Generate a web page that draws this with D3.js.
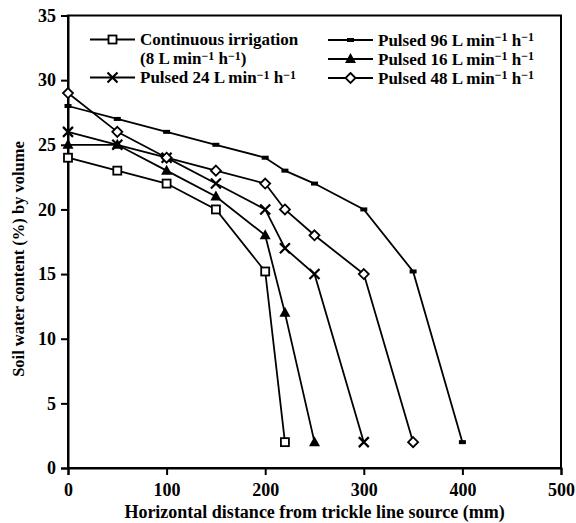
<!DOCTYPE html>
<html>
<head>
<meta charset="utf-8">
<script src="https://cdn.jsdelivr.net/npm/d3@7"></script>
<style>
  body { margin: 0; background: #fff; }
  svg { display: block; }
  text { font-family: "Liberation Serif", "Times New Roman", serif; fill: #000; }
</style>
</head>
<body>
<svg id="chart" width="576" height="523"></svg>
<script>
// data
const xTicks = [0, 100, 200, 300, 400, 500];
const yTicks = [0, 5, 10, 15, 20, 25, 30, 35];

const contX = [0, 50, 100, 150, 200, 220];
const contY = [24, 23, 22, 20, 15.2, 2];
const p16X = [0, 50, 100, 150, 200, 220, 250];
const p16Y = [25, 25, 23, 21, 18, 12, 2];
const p24X = [0, 50, 100, 150, 200, 220, 250, 300];
const p24Y = [26, 25, 24, 22, 20, 17, 15, 2];
const p48X = [0, 50, 100, 150, 200, 220, 250, 300, 350];
const p48Y = [29, 26, 24, 23, 22, 20, 18, 15, 2];
const p96X = [0, 50, 100, 150, 200, 220, 250, 300, 350, 400];
const p96Y = [28, 27, 26, 25, 24, 23, 22, 20, 15.2, 2];

const series = [
    {name: "cont", xs: contX, ys: contY, marker: "square"},
    {name: "p16", xs: p16X, ys: p16Y, marker: "triangle"},
    {name: "p24", xs: p24X, ys: p24Y, marker: "cross"},
    {name: "p48", xs: p48X, ys: p48Y, marker: "diamond"},
    {name: "p96", xs: p96X, ys: p96Y, marker: "dash"}
];

const width = 576, height = 523;
const margin = {top: 15.5, right: 15, bottom: 55, left: 68};

const svg = d3.select("#chart");

const xScale = d3.scaleLinear().domain([0, 500]).range([margin.left, width - margin.right]);
const yScale = d3.scaleLinear().domain([0, 35]).range([height - margin.bottom, margin.top]);

// frame
svg.append("rect")
    .attr("x", margin.left).attr("y", margin.top)
    .attr("width", xScale(500) - margin.left)
    .attr("height", yScale(0) - margin.top)
    .attr("fill", "none").attr("stroke", "#000").attr("stroke-width", 2);

// axes
const xAxis = svg.append("g")
    .attr("transform", `translate(0,${yScale(0)})`)
    .call(d3.axisBottom(xScale).tickValues(xTicks).tickSize(7).tickPadding(8));
const yAxis = svg.append("g")
    .attr("transform", `translate(${margin.left},0)`)
    .call(d3.axisLeft(yScale).tickValues(yTicks).tickSize(7).tickPadding(5));

[xAxis, yAxis].forEach(ax => {
    ax.select(".domain").attr("stroke-width", 2);
    ax.selectAll(".tick line").attr("stroke-width", 2);
    ax.selectAll(".tick text")
        .attr("font-family", "Liberation Serif")
        .attr("font-size", 18)
        .attr("font-weight", "bold");
});

// axis titles
svg.append("text")
    .attr("x", (xScale(0) + xScale(500)) / 2)
    .attr("y", 518)
    .attr("text-anchor", "middle")
    .attr("font-size", 18)
    .attr("font-weight", "bold")
    .text("Horizontal distance from trickle line source (mm)");

svg.append("text")
    .attr("transform", `translate(24,259) rotate(-90)`)
    .attr("text-anchor", "middle")
    .attr("font-size", 16.5)
    .attr("font-weight", "bold")
    .text("Soil water content (%) by volume");

// markers
function drawMarker(g, type, x, y) {
    if (type === "square") {
        g.append("rect").attr("x", x - 4).attr("y", y - 4).attr("width", 8).attr("height", 8)
            .attr("fill", "#fff").attr("stroke", "#000").attr("stroke-width", 1.8);
    } else if (type === "triangle") {
        g.append("path").attr("d", `M${x},${y - 6}L${x + 5.5},${y + 4}L${x - 5.5},${y + 4}Z`)
            .attr("fill", "#000");
    } else if (type === "cross") {
        g.append("path").attr("d", `M${x - 5},${y - 5}L${x + 5},${y + 5}M${x - 5},${y + 5}L${x + 5},${y - 5}`)
            .attr("stroke", "#000").attr("stroke-width", 2.2);
    } else if (type === "diamond") {
        g.append("path").attr("d", `M${x},${y - 5}L${x + 5},${y}L${x},${y + 5}L${x - 5},${y}Z`)
            .attr("fill", "#fff").attr("stroke", "#000").attr("stroke-width", 1.8);
    } else if (type === "dash") {
        g.append("rect").attr("x", x - 3.5).attr("y", y - 2).attr("width", 7).attr("height", 4)
            .attr("fill", "#000");
    }
}

const line = d3.line().x(d => xScale(d[0])).y(d => yScale(d[1]));

series.forEach(s => {
    const pts = s.xs.map((x, i) => [x, s.ys[i]]);
    svg.append("path")
        .datum(pts)
        .attr("d", line)
        .attr("fill", "none")
        .attr("stroke", "#000")
        .attr("stroke-width", 1.8);
    const g = svg.append("g").attr("class", "markers-" + s.name);
    pts.forEach(p => drawMarker(g, s.marker, xScale(p[0]), yScale(p[1])));
});

// legend
const legendItems = [
    {marker: "square", x: 90, y: 39.5, label: "Continuous irrigation", sup: false},
    {marker: null, x: 90, y: 58.5, label: "(8 L min", sup: true, close: ")"},
    {marker: "cross", x: 90, y: 77.5, label: "Pulsed 24 L min", sup: true},
    {marker: "dash", x: 328, y: 40, label: "Pulsed 96 L min", sup: true},
    {marker: "triangle", x: 328, y: 59, label: "Pulsed 16 L min", sup: true},
    {marker: "diamond", x: 328, y: 78, label: "Pulsed 48 L min", sup: true}
];
const legendLineLen = 45;
const legend = svg.append("g").attr("class", "legend");
legendItems.forEach(d => {
    if (d.marker) {
        legend.append("line")
            .attr("x1", d.x).attr("x2", d.x + legendLineLen)
            .attr("y1", d.y).attr("y2", d.y)
            .attr("stroke", "#000").attr("stroke-width", 1.8);
        drawMarker(legend, d.marker, d.x + legendLineLen / 2, d.y);
    }
    const t = legend.append("text")
        .attr("x", d.x + legendLineLen + 5)
        .attr("y", d.y + 5.5)
        .attr("font-size", 17)
        .attr("font-weight", "bold");
    t.append("tspan").text(d.label);
    if (d.sup) {
        t.append("tspan").attr("dy", -4.5).attr("font-size", 12).text("\u22121");
        t.append("tspan").attr("dy", 4.5).text(" h");
        t.append("tspan").attr("dy", -4.5).attr("font-size", 12).text("\u22121");
        if (d.close) t.append("tspan").attr("dy", 4.5).text(d.close);
    }
});
</script>
</body>
</html>
